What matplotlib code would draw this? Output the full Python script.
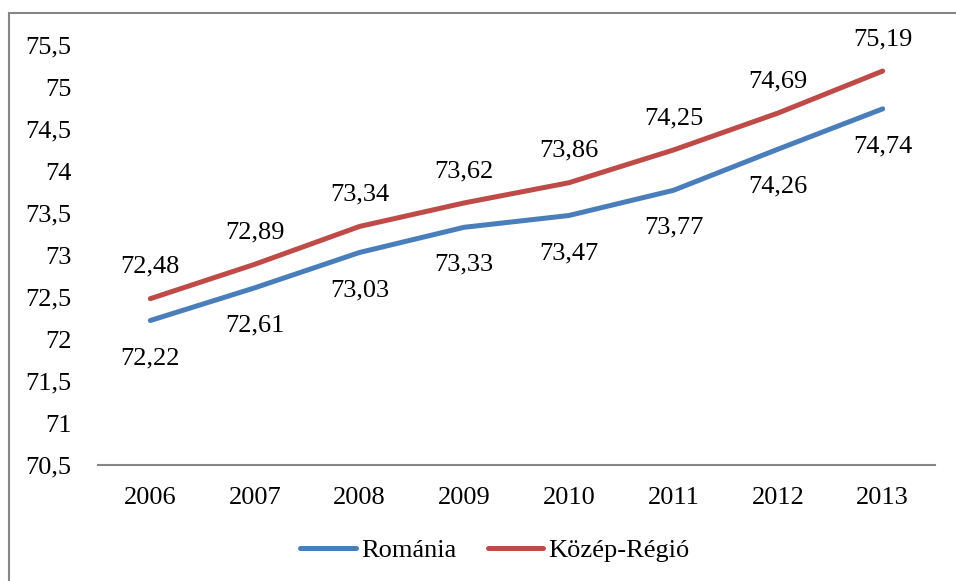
import matplotlib.pyplot as plt
from matplotlib.patches import Rectangle

plt.rcParams['font.family'] = ['Liberation Serif', 'DejaVu Serif']

years = ['2006', '2007', '2008', '2009', '2010', '2011', '2012', '2013']
romania = [72.22, 72.61, 73.03, 73.33, 73.47, 73.77, 74.26, 74.74]
kozep = [72.48, 72.89, 73.34, 73.62, 73.86, 74.25, 74.69, 75.19]
yticks = [70.5, 71, 71.5, 72, 72.5, 73, 73.5, 74, 74.5, 75, 75.5]

blue = '#4A7EBB'
red = '#BE4B48'
fs = 19

fig = plt.figure(figsize=(9.56, 5.81), dpi=100)
ax = fig.add_axes([98 / 956, 1 - 465 / 581, 837 / 956, 420 / 581])

x = list(range(len(years)))
ax.plot(x, romania, color=blue, lw=3.6, solid_capstyle='round', label='Románia')
ax.plot(x, kozep, color=red, lw=3.6, solid_capstyle='round', label='Közép-Régió')

def fmt(v):
    return f'{v:.2f}'.replace('.', ',')

for i in x:
    ax.annotate(fmt(romania[i]), (i, romania[i]), xytext=(0, -27), textcoords='offset points',
                ha='center', va='center', fontsize=fs)
    ax.annotate(fmt(kozep[i]), (i, kozep[i]), xytext=(0, 23), textcoords='offset points',
                ha='center', va='center', fontsize=fs)

ax.set_xlim(-0.5, len(years) - 0.5)
ax.set_ylim(70.5, 75.5)
ax.set_xticks(x)
ax.set_xticklabels(years, fontsize=fs)
ax.set_yticks(yticks)
ax.set_yticklabels([('%g' % t).replace('.', ',') for t in yticks], fontsize=fs)
ax.tick_params(axis='both', length=0)
ax.tick_params(axis='y', pad=19)
ax.tick_params(axis='x', pad=16)
for s in ['top', 'right', 'left']:
    ax.spines[s].set_visible(False)
ax.spines['bottom'].set_color('#868686')
ax.spines['bottom'].set_linewidth(1.5)

ax.legend(loc='center', bbox_to_anchor=(495 / 956, 1 - 550 / 581), bbox_transform=fig.transFigure,
          ncol=2, frameon=False, fontsize=fs, handlelength=2.1, handletextpad=0.2,
          columnspacing=1.2)

fig.patches.append(Rectangle((9 / 956, -0.1), 1.1, 1 - 13 / 581 + 0.1, transform=fig.transFigure,
                             fill=False, edgecolor='#868686', lw=1.5))

fig.savefig('out.png', dpi=100)
